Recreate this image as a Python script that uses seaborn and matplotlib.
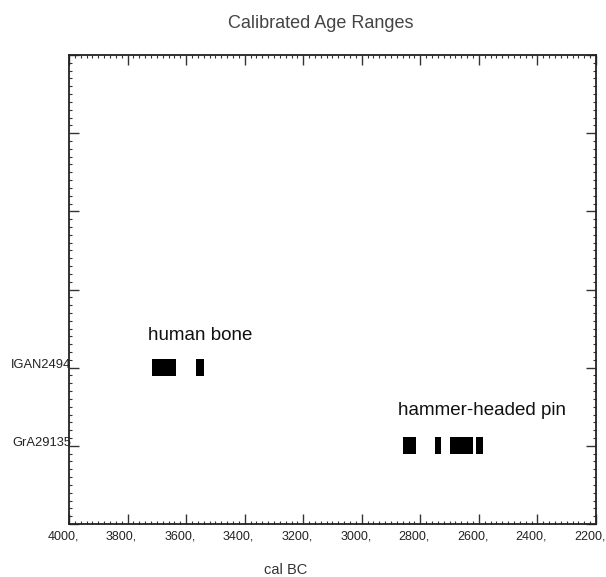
import matplotlib
matplotlib.use("Agg")
import matplotlib.pyplot as plt
import matplotlib.transforms as mtransforms
from matplotlib.ticker import MultipleLocator
import seaborn as sns

# ---- data ----
sample_labels = ["GrA29135", "IGAN2494"]
sample_positions = [1, 2]
igan_starts = [3715, 3565]
igan_ends = [3635, 3540]
gra_starts = [2860, 2750, 2700, 2610]
gra_ends = [2815, 2730, 2620, 2585]
x_ticks = [4000, 3800, 3600, 3400, 3200, 3000, 2800, 2600, 2400, 2200]
x_tick_labels = [f"{v}," for v in x_ticks]
annotations = ["hammer-headed pin", "human bone"]

sns.set_theme(style="ticks")
plt.rcParams["font.family"] = ["Liberation Sans", "DejaVu Sans"]

fig = plt.figure(figsize=(6.06, 5.77), dpi=100)
ax = fig.add_axes([69 / 606, 53 / 577, 527 / 606, 469 / 577])

bar_h = 0.22
for s, e in zip(igan_starts, igan_ends):
    ax.barh(sample_positions[1], e - s, left=s, height=bar_h, color="black", linewidth=0)
for s, e in zip(gra_starts, gra_ends):
    ax.barh(sample_positions[0], e - s, left=s, height=bar_h, color="black", linewidth=0)

ax.set_xlim(4000, 2200)
ax.set_ylim(0, 6)

ax.set_xticks(x_ticks)
ax.set_xticklabels(x_tick_labels, fontsize=9, color="#222222")
ax.xaxis.set_minor_locator(MultipleLocator(20))
ax.set_yticks(range(0, 7))
ylabels = ["" for _ in range(7)]
for p, l in zip(sample_positions, sample_labels):
    ylabels[p] = l
ax.set_yticklabels(ylabels, fontsize=9.3, color="#222222", va="baseline")
ax.yaxis.set_minor_locator(MultipleLocator(0.1))

ax.tick_params(axis="both", which="both", direction="in", top=True, right=True, color="#333333")
ax.tick_params(axis="both", which="major", length=7, width=1.0)
ax.tick_params(axis="both", which="minor", length=2.5, width=0.8)
ax.tick_params(axis="x", which="major", pad=5)
ax.tick_params(axis="y", which="major", pad=-1.5)

offset = mtransforms.ScaledTranslation(-6 / 100, 0, fig.dpi_scale_trans)
for lab in ax.get_xticklabels():
    lab.set_transform(lab.get_transform() + offset)

for sp in ax.spines.values():
    sp.set_linewidth(1.3)
    sp.set_color("#222222")

ax.text(3730, 2.35, annotations[1], fontsize=13.5, color="#111111", ha="left", va="baseline")
ax.text(2876, 1.39, annotations[0], fontsize=13.5, color="#111111", ha="left", va="baseline")

fig.text(321 / 606, 1 - 28 / 577, "Calibrated Age Ranges", fontsize=13, color="#444444",
         ha="center", va="baseline")
fig.text(286 / 606, 1 - 574 / 577, "cal BC", fontsize=10.5, color="#333333",
         ha="center", va="baseline")

fig.savefig("out.png", dpi=100, facecolor="white")
